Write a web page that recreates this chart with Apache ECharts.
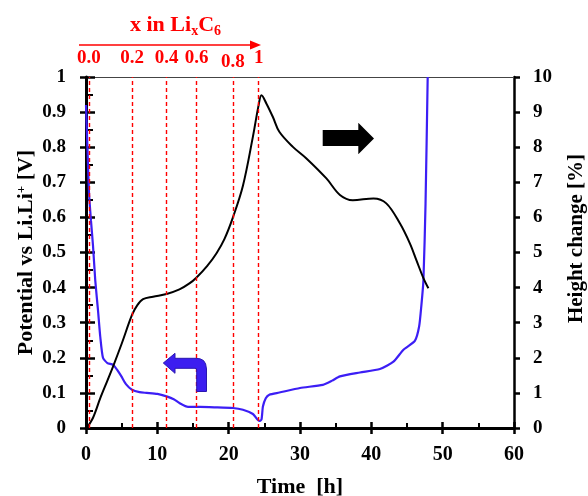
<!DOCTYPE html>
<html>
<head>
<meta charset="utf-8">
<script src="https://cdn.jsdelivr.net/npm/echarts@6/dist/echarts.min.js"></script>
<style>html,body{margin:0;padding:0;background:#fff}#c{width:588px;height:496px}</style>
</head>
<body>
<div id="c"></div>
<script>
// Potential vs Li/Li+ [V] over time [h]
var potential = [[0.0,0.92],[0.2,0.80],[0.42,0.67],[0.7,0.59],[0.98,0.52],[1.3,0.42],[1.68,0.336],[2.0,0.26],[2.38,0.20],[3.0,0.185],[3.8,0.18],[4.4,0.165],[4.96,0.147],[5.6,0.125],[6.45,0.109],[7.5,0.102],[8.5,0.1],[10,0.097],[11.3,0.09],[12.3,0.082],[13.1,0.071],[14.3,0.06],[16,0.06],[18,0.059],[20.6,0.057],[22,0.052],[23.4,0.04],[24.0,0.025],[24.3,0.02],[24.6,0.024],[24.8,0.061],[25.2,0.085],[25.7,0.095],[27.1,0.101],[30,0.114],[33.2,0.123],[34.5,0.135],[35.6,0.147],[38.4,0.158],[41.2,0.168],[43.1,0.189],[44.5,0.223],[46.1,0.248],[46.7,0.289],[47.0,0.346],[47.3,0.42],[47.6,0.64],[47.9,1.0]];
// Height change [%] over time [h]
var heightChange = [[0.1,0],[1,0.3],[2,0.85],[3,1.35],[3.79,1.75],[5,2.4],[6.45,3.22],[7.2,3.5],[8.0,3.67],[9.4,3.74],[11.3,3.82],[13.1,3.95],[14.5,4.12],[15.5,4.29],[17,4.62],[18.3,4.98],[19.4,5.38],[20.6,6.0],[22.0,6.9],[23.4,8.3],[24.2,9.2],[24.6,9.48],[25.3,9.24],[26.2,8.86],[27.1,8.44],[29.0,8.01],[30.9,7.68],[33.7,7.11],[35.6,6.64],[37.4,6.49],[40.3,6.54],[42.1,6.40],[44.0,5.83],[45.4,5.26],[46.3,4.79],[47.3,4.27],[48.0,3.98]];
// x in LixC6 markers (time [h] and label)
var xLiTimes = [0.42, 6.45, 11.3, 15.5, 20.6, 24.2];
var xLiLabels = ['0.0', '0.2', '0.4', '0.6', '0.8', '1'];

var FONT = 'Liberation Serif';
var lblStyle = {color:'#000', fontFamily:FONT, fontWeight:'bold', fontSize:20};
function nameStyle(sz){ return {color:'#000', fontFamily:FONT, fontWeight:'bold', fontSize:sz}; }

var chart = echarts.init(document.getElementById('c'));
var markData = xLiTimes.map(function(t, i){
  return {xAxis:t, label:{formatter:xLiLabels[i], distance: i===4 ? 5 : 9}};
});
chart.setOption({
  animation:false,
  grid:{left:86, right:74, top:77, bottom:68, outerBoundsMode:'none', containLabel:false},
  xAxis:[
    {type:'value', position:'bottom', min:0, max:60, interval:10,
     axisLine:{show:true, onZero:false, lineStyle:{color:'#000', width:3}},
     axisTick:{show:true, inside:false, length:6, lineStyle:{color:'#000', width:2.5}},
     axisLabel:Object.assign({margin:17}, lblStyle),
     splitLine:{show:false},
     name:'Time  [h]', nameLocation:'middle', nameGap:48, nameMoveOverlap:false,
     nameTextStyle:nameStyle(22)},
    {type:'value', position:'top', min:0, max:60,
     axisLine:{show:true, onZero:false, lineStyle:{color:'#444', width:1}},
     axisTick:{show:false}, axisLabel:{show:false}, splitLine:{show:false}},
    {type:'value', position:'bottom', min:0, max:60, interval:10,
     axisLine:{show:false}, axisLabel:{show:false}, splitLine:{show:false},
     axisTick:{show:true, inside:true, length:6, lineStyle:{color:'#000', width:2.5}},
     minorTick:{show:true, splitNumber:2, length:5, lineStyle:{color:'#000', width:2}}}
  ],
  yAxis:[
    {type:'value', position:'left', min:0, max:1, interval:0.1,
     axisLine:{show:true, onZero:false, lineStyle:{color:'#000', width:3}},
     axisTick:{show:true, inside:false, length:6, lineStyle:{color:'#000', width:2.5}},
     axisLabel:Object.assign({margin:20}, lblStyle, {fontSize:19}),
     splitLine:{show:false},
     name:'{a|Potential vs Li.Li}{sup|+}{a| [V]}', nameLocation:'middle', nameGap:49, nameMoveOverlap:false,
     nameTextStyle:{rich:{
       a:{color:'#000', fontFamily:FONT, fontWeight:'bold', fontSize:22},
       sup:{color:'#000', fontFamily:FONT, fontWeight:'bold', fontSize:13, padding:[0,0,9,0]}}}},
    {type:'value', position:'right', min:0, max:10, interval:1,
     axisLine:{show:true, onZero:false, lineStyle:{color:'#000', width:2.5}},
     axisTick:{show:true, inside:false, length:6, lineStyle:{color:'#000', width:2.5}},
     axisLabel:Object.assign({margin:19}, lblStyle, {fontSize:19}),
     splitLine:{show:false},
     name:'Height change [%]', nameLocation:'middle', nameGap:52, nameMoveOverlap:false,
     nameTextStyle:Object.assign({padding:[0,0,0,28]}, nameStyle(21))},
    {type:'value', position:'left', min:0, max:1, interval:0.1,
     axisLine:{show:false}, axisLabel:{show:false}, splitLine:{show:false},
     axisTick:{show:true, inside:true, length:9, lineStyle:{color:'#000', width:2.5}},
     minorTick:{show:true, splitNumber:2, length:7, lineStyle:{color:'#000', width:2}}}
  ],
  series:[
    {type:'line', name:'Potential', xAxisIndex:0, yAxisIndex:0, data:potential,
     showSymbol:false, smooth:0.2, lineStyle:{color:'#3c1ef5', width:2.2}, z:3,
     markLine:{silent:true, symbol:['none','none'], animation:false,
       lineStyle:{color:'#ff0000', type:[4,3], width:1.4},
       label:{show:true, position:'end', color:'#ff0000', fontFamily:FONT, fontWeight:'bold', fontSize:19},
       data:markData}},
    {type:'line', name:'Height', xAxisIndex:0, yAxisIndex:1, data:heightChange,
     showSymbol:false, smooth:0.35, lineStyle:{color:'#000', width:2}, z:4}
  ],
  graphic:[
    {type:'text', x:130, y:13,
     style:{text:'{t|x in Li}{sub|x}{t|C}{sub|6}', rich:{
       t:{fill:'#ff0000', fontFamily:FONT, fontWeight:'bold', fontSize:22},
       sub:{fill:'#ff0000', fontFamily:FONT, fontWeight:'bold', fontSize:14, padding:[11,0,0,0]}}}},
    {type:'line', shape:{x1:79, y1:45, x2:252, y2:45}, style:{stroke:'#ff0000', lineWidth:1.5}},
    {type:'polygon', shape:{points:[[250,40.5],[261,45],[250,49.5]]}, style:{fill:'#ff0000'}},
    {type:'polygon', z:10, shape:{points:[[322.7,130],[358.3,130],[358.3,122.7],[374,138.5],[358.3,154.3],[358.3,146],[322.7,146]]}, style:{fill:'#000'}},
    {type:'polygon', z:10, shape:{points:[[163.3,363],[175,353.3],[175,358.3],[196,358.3],[200,358.8],[203.5,360.5],[205.6,363.8],[206.5,369],[206.5,391.5],[196.7,391.5],[196.7,370],[196.2,368.6],[195,368.3],[175,368.3],[175,373.3]]},
     style:{fill:'#3c1ef0', stroke:'#2a17b0', lineWidth:1}}
  ]
});
</script>
</body>
</html>
